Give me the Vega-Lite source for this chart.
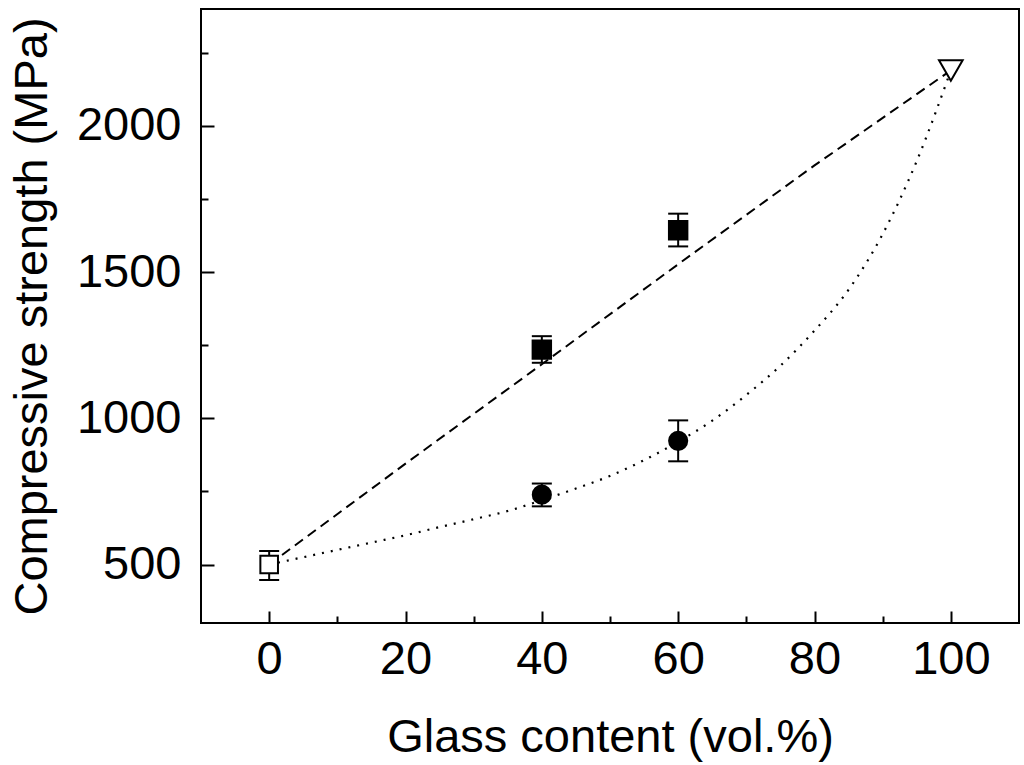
{
  "$schema": "https://vega.github.io/schema/vega-lite/v6.json",
  "width": 818,
  "height": 614,
  "autosize": "none",
  "padding": {"left": 201, "top": 9, "right": 5, "bottom": 142},
  "background": "white",
  "config": {
    "view": {"stroke": "black", "strokeWidth": 2},
    "font": "Liberation Sans",
    "axis": {
      "domain": false,
      "grid": false,
      "labelFont": "Liberation Sans",
      "labelFontSize": 47,
      "labelColor": "black",
      "titleFont": "Liberation Sans",
      "titleFontSize": 47,
      "titleFontWeight": "normal",
      "titleColor": "black",
      "tickColor": "black",
      "tickWidth": 2
    }
  },
  "datasets": {
    "dashed": [
      {"x": 0, "y": 500},
      {"x": 20, "y": 845},
      {"x": 40, "y": 1185},
      {"x": 60, "y": 1527},
      {"x": 80, "y": 1865},
      {"x": 100, "y": 2190}
    ],
    "dotted": [
      {"x": 0, "y": 500},
      {"x": 5, "y": 525},
      {"x": 10, "y": 550},
      {"x": 15, "y": 575},
      {"x": 20, "y": 600},
      {"x": 25, "y": 628},
      {"x": 30, "y": 655},
      {"x": 35, "y": 683},
      {"x": 40, "y": 720},
      {"x": 45, "y": 760},
      {"x": 50, "y": 803},
      {"x": 55, "y": 857},
      {"x": 60, "y": 920},
      {"x": 65, "y": 992},
      {"x": 70, "y": 1080},
      {"x": 75, "y": 1180},
      {"x": 80, "y": 1300},
      {"x": 85, "y": 1440},
      {"x": 90, "y": 1630},
      {"x": 95, "y": 1880},
      {"x": 100, "y": 2190}
    ],
    "points": [
      {"x": 0, "y": 500, "lo": 447, "hi": 546, "s": "open square"},
      {"x": 40, "y": 1235, "lo": 1190, "hi": 1281, "s": "filled square"},
      {"x": 60, "y": 1643, "lo": 1588, "hi": 1700, "s": "filled square"},
      {"x": 40, "y": 739, "lo": 699, "hi": 777, "s": "circle"},
      {"x": 60, "y": 923, "lo": 853, "hi": 993, "s": "circle"},
      {"x": 100, "y": 2190, "lo": null, "hi": null, "s": "triangle"}
    ]
  },
  "layer": [
    {
      "data": {"name": "dashed"},
      "mark": {"type": "line", "color": "black", "strokeWidth": 2, "strokeDash": [10, 6]},
      "encoding": {
        "x": {
          "field": "x", "type": "quantitative",
          "scale": {"domain": [-10, 110], "nice": false, "zero": false},
          "axis": {
            "orient": "bottom", "title": "Glass content (vol.%)", "format": "d",
            "values": [0, 20, 40, 60, 80, 100], "ticks": false, "labelPadding": 13,
            "titleX": 409, "titleY": 128, "titleBaseline": "alphabetic", "titleAlign": "center"
          }
        },
        "y": {
          "field": "y", "type": "quantitative",
          "scale": {"domain": [300, 2400], "nice": false, "zero": false},
          "axis": {
            "orient": "left", "title": "Compressive strength (MPa)", "format": "d",
            "values": [500, 1000, 1500, 2000], "ticks": false, "labelPadding": 20,
            "titleX": -155, "titleY": 307, "titleBaseline": "alphabetic", "titleAlign": "center", "titleAngle": -90
          }
        }
      }
    },
    {
      "data": {"name": "dotted"},
      "mark": {"type": "line", "color": "black", "strokeWidth": 2.2, "strokeDash": [2, 7], "interpolate": "monotone"},
      "encoding": {
        "x": {
          "field": "x", "type": "quantitative",
          "scale": {"domain": [-10, 110], "nice": false, "zero": false},
          "axis": {"orient": "bottom", "title": null, "labels": false, "values": [0, 20, 40, 60, 80, 100], "ticks": true, "tickSize": -12}
        },
        "y": {
          "field": "y", "type": "quantitative",
          "scale": {"domain": [300, 2400], "nice": false, "zero": false},
          "axis": {"orient": "left", "title": null, "labels": false, "values": [500, 1000, 1500, 2000], "ticks": true, "tickSize": -13}
        }
      }
    },
    {
      "data": {"name": "points"},
      "transform": [{"filter": "datum.lo != null"}],
      "mark": {
        "type": "errorbar",
        "ticks": {"size": 20, "thickness": 2, "color": "black", "opacity": 1},
        "rule": {"strokeWidth": 2, "color": "black", "opacity": 1},
        "color": "black"
      },
      "encoding": {
        "x": {
          "field": "x", "type": "quantitative",
          "scale": {"domain": [-10, 110], "nice": false, "zero": false},
          "axis": {"orient": "bottom", "title": null, "labels": false, "values": [10, 30, 50, 70, 90], "ticks": true, "tickSize": -7}
        },
        "y": {
          "field": "lo", "type": "quantitative",
          "scale": {"domain": [300, 2400], "nice": false, "zero": false},
          "axis": {"orient": "left", "title": null, "labels": false, "values": [750, 1250, 1750, 2250], "ticks": true, "tickSize": -7}
        },
        "y2": {"field": "hi"}
      }
    },
    {
      "data": {"name": "points"},
      "mark": {"type": "point", "filled": true, "stroke": "black", "strokeWidth": 2, "opacity": 1, "fillOpacity": 1, "strokeOpacity": 1},
      "encoding": {
        "x": {"field": "x", "type": "quantitative", "scale": {"domain": [-10, 110], "nice": false, "zero": false}, "axis": null},
        "y": {"field": "y", "type": "quantitative", "scale": {"domain": [300, 2400], "nice": false, "zero": false}, "axis": null},
        "shape": {
          "field": "s", "type": "nominal", "legend": null,
          "scale": {"domain": ["open square", "filled square", "circle", "triangle"], "range": ["square", "square", "circle", "triangle-down"]}
        },
        "fill": {
          "field": "s", "type": "nominal", "legend": null,
          "scale": {"domain": ["open square", "filled square", "circle", "triangle"], "range": ["white", "black", "black", "white"]}
        },
        "size": {
          "field": "s", "type": "nominal", "legend": null,
          "scale": {"type": "ordinal", "domain": ["open square", "filled square", "circle", "triangle"], "range": [310, 340, 330, 560]}
        }
      }
    }
  ],
  "resolve": {"axis": {"x": "independent", "y": "independent"}}
}
